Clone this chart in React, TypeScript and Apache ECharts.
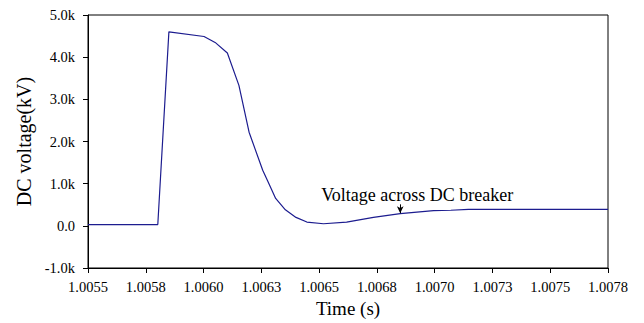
import React, { useEffect, useRef } from "react";
import * as echarts from "echarts";

const timeS = [
  1.0055, 1.005802, 1.00585, 1.006002, 1.00605, 1.006103, 1.006153, 1.006197,
  1.006256, 1.006276, 1.006312, 1.006354, 1.0064, 1.006447, 1.006519, 1.006619,
  1.006735, 1.006851, 1.006995, 1.00707, 1.007146, 1.00775,
];
const voltage = [
  30, 30, 4600, 4490, 4350, 4100, 3330, 2220, 1320, 1080, 650, 380, 200, 90, 50,
  90, 200, 290, 360, 370, 390, 390,
];
const xTickLabels = [
  "1.0055", "1.0058", "1.0060", "1.0063", "1.0065", "1.0068", "1.0070", "1.0073", "1.0075", "1.0078",
];
const yTickLabels = ["-1.0k", "0.0", "1.0k", "2.0k", "3.0k", "4.0k", "5.0k"];
const annotationText = "Voltage across DC breaker";
const arrowFrom = [1.006851, 510];
const arrowTo = [1.006851, 300];

const X_MIN = 1.0055;
const X_STEP = 0.00025;
const FONT = "Liberation Serif";

export default function App() {
  const ref = useRef<HTMLDivElement>(null);
  useEffect(() => {
    if (!ref.current) return;
    const chart = echarts.init(ref.current, undefined, { renderer: "svg" });
    const data = timeS.map((t, i) => [t, voltage[i]]);
    chart.setOption({
      animation: false,
      textStyle: { fontFamily: FONT, color: "#000" },
      grid: {
        left: 88,
        right: 36,
        top: 15,
        bottom: 55,
        show: true,
        borderColor: "#000",
        borderWidth: 1,
        backgroundColor: "transparent",
      },
      xAxis: {
        type: "value",
        min: X_MIN,
        max: X_MIN + X_STEP * (xTickLabels.length - 1),
        interval: X_STEP,
        name: "Time (s)",
        nameLocation: "middle",
        nameGap: 31,
        nameTextStyle: { fontFamily: FONT, fontSize: 19, color: "#000" },
        axisLine: { onZero: false, lineStyle: { color: "#000", width: 1 } },
        axisTick: { show: true, length: 5, lineStyle: { color: "#000" } },
        axisLabel: {
          color: "#000",
          fontFamily: FONT,
          fontSize: 14.5,
          margin: 11,
          formatter: (v: number) => {
            const i = Math.round((v - X_MIN) / X_STEP);
            return xTickLabels[i] ?? "";
          },
        },
        splitLine: { show: false },
      },
      yAxis: {
        type: "value",
        min: -1000,
        max: 5000,
        interval: 1000,
        name: "DC voltage(kV)",
        nameLocation: "middle",
        nameGap: 52,
        nameTextStyle: { fontFamily: FONT, fontSize: 20, color: "#000" },
        axisLine: { show: true, onZero: false, lineStyle: { color: "#000", width: 1 } },
        axisTick: { show: true, length: 5, lineStyle: { color: "#000" } },
        axisLabel: {
          color: "#000",
          fontFamily: FONT,
          fontSize: 14.5,
          margin: 13,
          formatter: (v: number) => {
            const i = Math.round((v + 1000) / 1000);
            return yTickLabels[i] ?? "";
          },
        },
        splitLine: { show: false },
      },
      series: [
        {
          type: "line",
          data,
          showSymbol: false,
          symbol: "none",
          lineStyle: { color: "#1c1c8f", width: 1.2 },
          markLine: {
            silent: true,
            symbol: ["none", "arrow"],
            symbolSize: [5, 7],
            lineStyle: { color: "#000", width: 1, type: "solid" },
            label: { show: false },
            data: [[{ coord: arrowFrom }, { coord: arrowTo }]],
          },
          markPoint: {
            silent: true,
            symbol: "circle",
            symbolSize: 0,
            data: [
              {
                coord: arrowFrom,
                label: {
                  show: true,
                  formatter: annotationText,
                  position: "top",
                  distance: 0,
                  offset: [17, 0],
                  color: "#000",
                  fontFamily: FONT,
                  fontSize: 18,
                },
              },
            ],
          },
        },
      ],
    });
    return () => chart.dispose();
  }, []);
  return <div ref={ref} style={{ width: 644, height: 323, position: "absolute", left: 0, top: 0, background: "#fff" }} />;
}
